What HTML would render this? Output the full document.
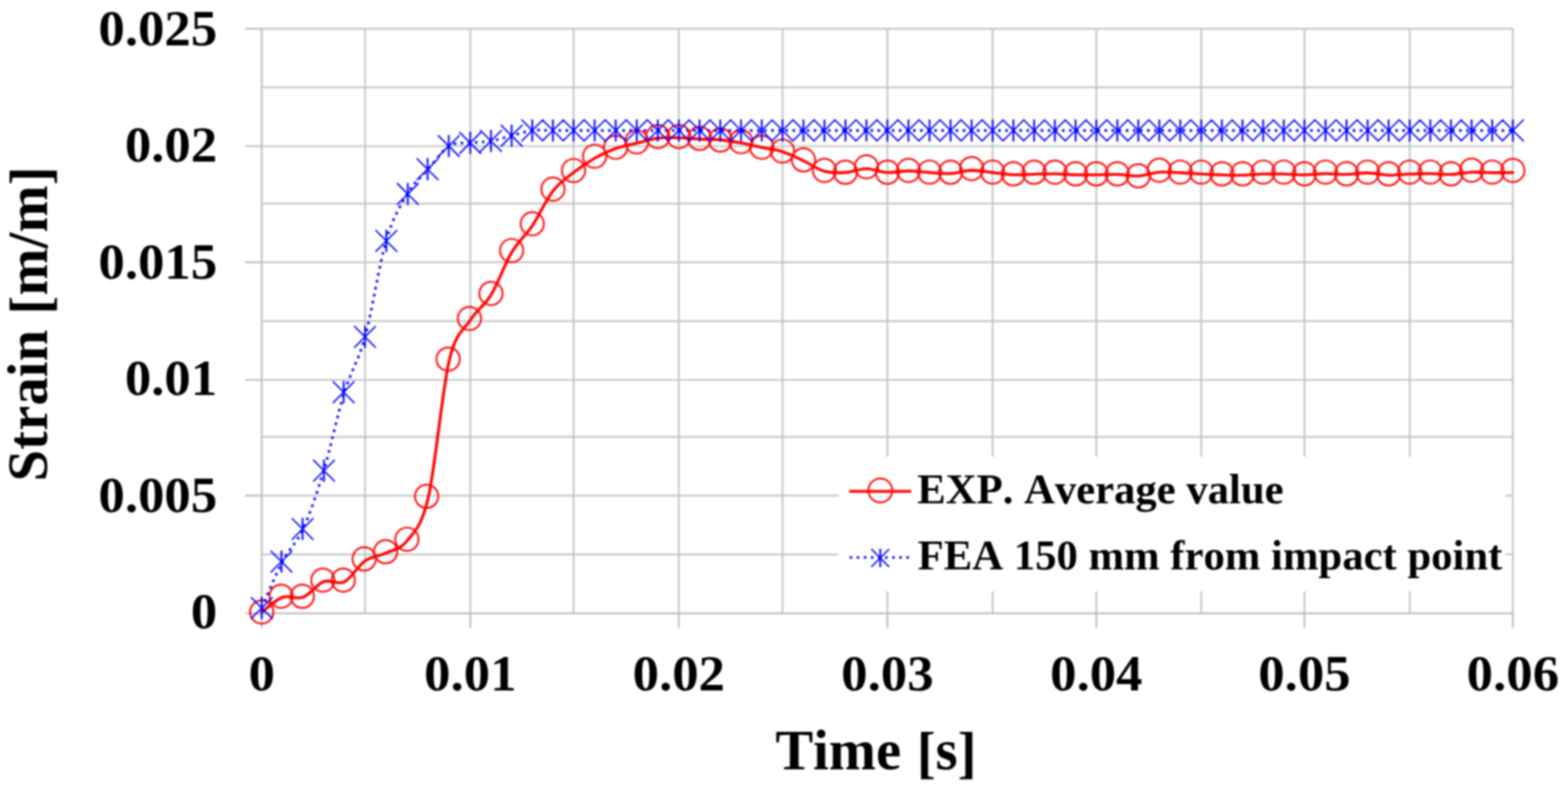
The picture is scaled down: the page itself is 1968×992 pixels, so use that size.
<!DOCTYPE html><html><head><meta charset="utf-8"><title>Strain vs Time</title><style>html,body{margin:0;padding:0;background:#fff;}svg{display:block;filter:blur(1px);}text{font-family:"Liberation Serif",serif;font-weight:bold;fill:#000;font-kerning:none;}</style></head><body>
<svg width="1968" height="992" viewBox="0 0 1968 992">
<rect width="1968" height="992" fill="#fff"/>
<path d="M329.6,36.06H1899.9M329.6,109.60H1899.9M329.6,183.50H1899.9M329.6,255.60H1899.9M329.6,329.40H1899.9M329.6,403.20H1899.9M329.6,477.00H1899.9M329.6,548.60H1899.9M329.6,622.30H1899.9M329.6,696.20H1899.9M458.20,35.0V769.1M590.30,35.0V769.1M719.90,35.0V769.1M852.00,35.0V769.1M982.10,35.0V769.1M1113.80,35.0V769.1M1245.90,35.0V769.1M1376.00,35.0V769.1M1507.70,35.0V769.1M1637.20,35.0V769.1M1769.30,35.0V769.1M1898.80,35.0V769.1" stroke="#c4c4c4" stroke-width="2.2" fill="none"/>
<path d="M307.5,770.20H1899.9M328.50,35.0V788.5M307.5,36.06H328.5M307.5,183.50H328.5M307.5,329.40H328.5M307.5,477.00H328.5M307.5,622.30H328.5M590.30,770.2V788.5M852.00,770.2V788.5M1113.80,770.2V788.5M1376.00,770.2V788.5M1637.20,770.2V788.5M1898.80,770.2V788.5" stroke="#bcbcbc" stroke-width="2.2" fill="none"/>
<text x="272.6" y="56.6" font-size="62.5" text-anchor="end" textLength="149.1" lengthAdjust="spacingAndGlyphs">0.025</text>
<text x="272.6" y="202.7" font-size="62.5" text-anchor="end" textLength="115.9" lengthAdjust="spacingAndGlyphs">0.02</text>
<text x="272.6" y="349.9" font-size="62.5" text-anchor="end" textLength="149.1" lengthAdjust="spacingAndGlyphs">0.015</text>
<text x="272.6" y="495.6" font-size="62.5" text-anchor="end" textLength="115.9" lengthAdjust="spacingAndGlyphs">0.01</text>
<text x="272.6" y="642.8" font-size="62.5" text-anchor="end" textLength="149.1" lengthAdjust="spacingAndGlyphs">0.005</text>
<text x="272.6" y="788.7" font-size="62.5" text-anchor="end" textLength="33.1" lengthAdjust="spacingAndGlyphs">0</text>
<text x="328.5" y="866.5" font-size="62.5" text-anchor="middle" textLength="33.1" lengthAdjust="spacingAndGlyphs">0</text>
<text x="590.3" y="866.5" font-size="62.5" text-anchor="middle" textLength="115.9" lengthAdjust="spacingAndGlyphs">0.01</text>
<text x="852.0" y="866.5" font-size="62.5" text-anchor="middle" textLength="115.9" lengthAdjust="spacingAndGlyphs">0.02</text>
<text x="1113.8" y="866.5" font-size="62.5" text-anchor="middle" textLength="115.9" lengthAdjust="spacingAndGlyphs">0.03</text>
<text x="1376.0" y="866.5" font-size="62.5" text-anchor="middle" textLength="115.9" lengthAdjust="spacingAndGlyphs">0.04</text>
<text x="1637.2" y="866.5" font-size="62.5" text-anchor="middle" textLength="115.9" lengthAdjust="spacingAndGlyphs">0.05</text>
<text x="1898.8" y="866.5" font-size="62.5" text-anchor="middle" textLength="115.9" lengthAdjust="spacingAndGlyphs">0.06</text>
<text x="973.2" y="965.8" font-size="71">Time <tspan dx="2" dy="3.4">[</tspan><tspan dy="-3.4">s</tspan><tspan dy="3.4">]</tspan></text>
<text transform="translate(58.5,604.6) rotate(-90)" x="0" y="0" font-size="71" letter-spacing="0.2">Strain <tspan dx="1" dy="3.4">[</tspan><tspan dy="-3.4">m/m</tspan><tspan dy="3.4">]</tspan></text>
<path d="M328.50,768.70 C332.82,765.58 345.79,753.13 354.44,750.00 C363.09,746.87 371.73,753.18 380.38,749.90 C389.03,746.62 397.67,733.52 406.32,730.30 C414.97,727.08 423.61,734.93 432.26,730.60 C440.91,726.27 449.47,710.35 458.20,704.30 C466.93,698.25 475.81,698.52 484.62,694.30 C493.43,690.08 502.23,690.55 511.04,679.00 C519.85,667.45 528.65,662.75 537.46,625.00 C546.27,587.25 555.07,489.67 563.88,452.50 C572.69,415.33 581.58,415.67 590.30,402.00 C599.02,388.33 607.58,384.67 616.22,370.50 C624.86,356.33 633.50,331.50 642.14,317.00 C650.78,302.50 659.42,296.37 668.06,283.50 C676.70,270.63 685.34,250.95 693.98,239.80 C702.62,228.65 711.18,223.43 719.90,216.60 C728.62,209.77 737.51,203.82 746.32,198.80 C755.13,193.78 763.93,189.68 772.74,186.50 C781.55,183.32 790.35,181.87 799.16,179.70 C807.97,177.53 816.77,174.62 825.58,173.50 C834.39,172.38 843.26,172.82 852.00,173.00 C860.74,173.18 869.35,174.17 878.02,174.60 C886.69,175.03 895.37,174.77 904.04,175.60 C912.71,176.43 921.39,178.00 930.06,179.60 C938.73,181.20 947.41,183.38 956.08,185.20 C964.75,187.02 973.37,187.73 982.10,190.50 C990.83,193.27 999.66,197.70 1008.44,201.80 C1017.22,205.90 1026.00,212.63 1034.78,215.10 C1043.56,217.57 1052.34,217.17 1061.12,216.60 C1069.90,216.03 1078.68,211.70 1087.46,211.70 C1096.24,211.70 1105.01,216.12 1113.80,216.60 C1122.59,217.08 1131.41,214.60 1140.22,214.60 C1149.03,214.60 1157.83,216.05 1166.64,216.60 C1175.45,217.15 1184.25,218.35 1193.06,217.90 C1201.87,217.45 1210.67,214.12 1219.48,213.90 C1228.29,213.68 1237.16,215.67 1245.90,216.60 C1254.64,217.53 1263.25,219.15 1271.92,219.50 C1280.59,219.85 1289.27,218.90 1297.94,218.70 C1306.61,218.50 1315.29,218.17 1323.96,218.30 C1332.63,218.43 1341.31,219.30 1349.98,219.50 C1358.65,219.70 1367.27,219.58 1376.00,219.50 C1384.73,219.42 1393.56,218.75 1402.34,219.00 C1411.12,219.25 1419.90,221.47 1428.68,221.00 C1437.46,220.53 1446.24,216.88 1455.02,216.20 C1463.80,215.52 1472.58,216.52 1481.36,216.90 C1490.14,217.28 1498.99,218.05 1507.70,218.50 C1516.41,218.95 1524.97,219.35 1533.60,219.60 C1542.23,219.85 1550.87,220.18 1559.50,220.00 C1568.13,219.82 1576.77,218.75 1585.40,218.50 C1594.03,218.25 1602.67,218.33 1611.30,218.50 C1619.93,218.67 1628.48,219.58 1637.20,219.50 C1645.92,219.42 1654.81,218.08 1663.62,218.00 C1672.43,217.92 1681.23,219.15 1690.04,219.00 C1698.85,218.85 1707.65,216.93 1716.46,217.10 C1725.27,217.27 1734.07,219.77 1742.88,220.00 C1751.69,220.23 1760.58,218.83 1769.30,218.50 C1778.02,218.17 1786.57,217.92 1795.20,218.00 C1803.83,218.08 1812.47,219.30 1821.10,219.00 C1829.73,218.70 1838.37,216.55 1847.00,216.20 C1855.63,215.85 1864.27,216.83 1872.90,216.90 C1881.53,216.97 1894.48,216.65 1898.80,216.60" stroke="#ff0000" stroke-width="3.6" fill="none" stroke-linejoin="round" stroke-linecap="round"/>
<g fill="none" stroke="#ff0000" stroke-width="2.2"><circle cx="328.50" cy="768.50" r="14.6"/><circle cx="352.84" cy="748.70" r="14.6"/><circle cx="379.38" cy="748.80" r="14.6"/><circle cx="405.22" cy="728.50" r="14.6"/><circle cx="430.86" cy="728.50" r="14.6"/><circle cx="457.10" cy="701.80" r="14.6"/><circle cx="484.02" cy="692.80" r="14.6"/><circle cx="510.74" cy="677.10" r="14.6"/><circle cx="535.46" cy="623.30" r="14.6"/><circle cx="562.48" cy="450.90" r="14.6"/><circle cx="589.20" cy="399.90" r="14.6"/><circle cx="616.22" cy="368.50" r="14.6"/><circle cx="642.14" cy="314.60" r="14.6"/><circle cx="668.06" cy="281.00" r="14.6"/><circle cx="693.98" cy="237.50" r="14.6"/><circle cx="719.90" cy="214.10" r="14.6"/><circle cx="746.32" cy="196.10" r="14.6"/><circle cx="772.74" cy="184.90" r="14.6"/><circle cx="799.16" cy="178.10" r="14.6"/><circle cx="825.58" cy="171.50" r="14.6"/><circle cx="852.00" cy="171.50" r="14.6"/><circle cx="878.02" cy="173.80" r="14.6"/><circle cx="904.04" cy="175.80" r="14.6"/><circle cx="930.06" cy="177.90" r="14.6"/><circle cx="956.08" cy="185.00" r="14.6"/><circle cx="982.10" cy="189.60" r="14.6"/><circle cx="1008.44" cy="200.80" r="14.6"/><circle cx="1034.78" cy="214.00" r="14.6"/><circle cx="1061.12" cy="216.30" r="14.6"/><circle cx="1087.46" cy="209.50" r="14.6"/><circle cx="1113.80" cy="216.30" r="14.6"/><circle cx="1140.22" cy="214.00" r="14.6"/><circle cx="1166.64" cy="216.10" r="14.6"/><circle cx="1193.06" cy="216.30" r="14.6"/><circle cx="1219.48" cy="211.70" r="14.6"/><circle cx="1245.90" cy="216.10" r="14.6"/><circle cx="1271.92" cy="218.30" r="14.6"/><circle cx="1297.94" cy="216.30" r="14.6"/><circle cx="1323.96" cy="216.20" r="14.6"/><circle cx="1349.98" cy="218.30" r="14.6"/><circle cx="1376.00" cy="218.30" r="14.6"/><circle cx="1402.34" cy="218.30" r="14.6"/><circle cx="1428.68" cy="220.80" r="14.6"/><circle cx="1455.02" cy="213.70" r="14.6"/><circle cx="1481.36" cy="216.10" r="14.6"/><circle cx="1507.70" cy="216.10" r="14.6"/><circle cx="1533.60" cy="218.30" r="14.6"/><circle cx="1559.50" cy="218.30" r="14.6"/><circle cx="1585.40" cy="216.10" r="14.6"/><circle cx="1611.30" cy="216.10" r="14.6"/><circle cx="1637.20" cy="218.30" r="14.6"/><circle cx="1663.62" cy="216.10" r="14.6"/><circle cx="1690.04" cy="218.30" r="14.6"/><circle cx="1716.46" cy="216.10" r="14.6"/><circle cx="1742.88" cy="218.30" r="14.6"/><circle cx="1769.30" cy="216.10" r="14.6"/><circle cx="1795.20" cy="216.10" r="14.6"/><circle cx="1821.10" cy="218.30" r="14.6"/><circle cx="1847.00" cy="213.70" r="14.6"/><circle cx="1872.90" cy="216.10" r="14.6"/><circle cx="1898.80" cy="214.00" r="14.6"/></g>
<path d="M328.50,763.50 C332.82,753.78 345.79,721.75 354.44,705.20 C363.09,688.65 371.73,683.23 380.38,664.20 C389.03,645.17 397.67,619.62 406.32,591.00 C414.97,562.38 423.61,520.50 432.26,492.50 C440.91,464.50 449.47,454.67 458.20,423.00 C466.93,391.33 475.81,332.40 484.62,302.50 C493.43,272.60 502.23,258.60 511.04,243.60 C519.85,228.60 528.65,222.53 537.46,212.50 C546.27,202.47 555.07,188.92 563.88,183.40 C572.69,177.88 581.58,180.47 590.30,179.40 C599.02,178.33 607.58,178.50 616.22,177.00 C624.86,175.50 633.50,172.60 642.14,170.40 C650.78,168.20 659.42,164.90 668.06,163.80 C676.70,162.70 685.34,163.80 693.98,163.80 C702.62,163.80 711.18,163.80 719.90,163.80 C728.62,163.80 737.51,163.80 746.32,163.80 C755.13,163.80 763.93,163.80 772.74,163.80 C781.55,163.80 790.35,163.80 799.16,163.80 C807.97,163.80 816.77,163.80 825.58,163.80 C834.39,163.80 843.26,163.80 852.00,163.80 C860.74,163.80 869.35,163.80 878.02,163.80 C886.69,163.80 895.37,163.80 904.04,163.80 C912.71,163.80 921.39,163.80 930.06,163.80 C938.73,163.80 947.41,163.80 956.08,163.80 C964.75,163.80 973.37,163.80 982.10,163.80 C990.83,163.80 999.66,163.80 1008.44,163.80 C1017.22,163.80 1026.00,163.80 1034.78,163.80 C1043.56,163.80 1052.34,163.80 1061.12,163.80 C1069.90,163.80 1078.68,163.80 1087.46,163.80 C1096.24,163.80 1105.01,163.80 1113.80,163.80 C1122.59,163.80 1131.41,163.80 1140.22,163.80 C1149.03,163.80 1157.83,163.80 1166.64,163.80 C1175.45,163.80 1184.25,163.80 1193.06,163.80 C1201.87,163.80 1210.67,163.80 1219.48,163.80 C1228.29,163.80 1237.16,163.80 1245.90,163.80 C1254.64,163.80 1263.25,163.80 1271.92,163.80 C1280.59,163.80 1289.27,163.80 1297.94,163.80 C1306.61,163.80 1315.29,163.80 1323.96,163.80 C1332.63,163.80 1341.31,163.80 1349.98,163.80 C1358.65,163.80 1367.27,163.80 1376.00,163.80 C1384.73,163.80 1393.56,163.80 1402.34,163.80 C1411.12,163.80 1419.90,163.80 1428.68,163.80 C1437.46,163.80 1446.24,163.80 1455.02,163.80 C1463.80,163.80 1472.58,163.80 1481.36,163.80 C1490.14,163.80 1498.99,163.80 1507.70,163.80 C1516.41,163.80 1524.97,163.80 1533.60,163.80 C1542.23,163.80 1550.87,163.80 1559.50,163.80 C1568.13,163.80 1576.77,163.80 1585.40,163.80 C1594.03,163.80 1602.67,163.80 1611.30,163.80 C1619.93,163.80 1628.48,163.80 1637.20,163.80 C1645.92,163.80 1654.81,163.80 1663.62,163.80 C1672.43,163.80 1681.23,163.80 1690.04,163.80 C1698.85,163.80 1707.65,163.80 1716.46,163.80 C1725.27,163.80 1734.07,163.80 1742.88,163.80 C1751.69,163.80 1760.58,163.80 1769.30,163.80 C1778.02,163.80 1786.57,163.80 1795.20,163.80 C1803.83,163.80 1812.47,163.80 1821.10,163.80 C1829.73,163.80 1838.37,163.80 1847.00,163.80 C1855.63,163.80 1864.27,163.80 1872.90,163.80 C1881.53,163.80 1894.48,163.80 1898.80,163.80" stroke="#0000ff" stroke-width="3.2" fill="none" stroke-dasharray="3.2 5.7"/>
<path d="M314.90,749.90L342.10,777.10M314.90,777.10L342.10,749.90M339.64,691.60L366.84,718.80M339.64,718.80L366.84,691.60M366.18,650.60L393.38,677.80M366.18,677.80L393.38,650.60M393.02,577.40L420.22,604.60M393.02,604.60L420.22,577.40M417.66,478.90L444.86,506.10M417.66,506.10L444.86,478.90M444.50,409.40L471.70,436.60M444.50,436.60L471.70,409.40M471.32,288.90L498.52,316.10M471.32,316.10L498.52,288.90M498.24,230.00L525.44,257.20M498.24,257.20L525.44,230.00M523.06,198.90L550.26,226.10M523.06,226.10L550.26,198.90M549.68,169.80L576.88,197.00M549.68,197.00L576.88,169.80M576.60,165.80L603.80,193.00M576.60,193.00L603.80,165.80M602.62,163.40L629.82,190.60M602.62,190.60L629.82,163.40M628.54,156.80L655.74,184.00M628.54,184.00L655.74,156.80M654.46,150.20L681.66,177.40M654.46,177.40L681.66,150.20M680.38,150.20L707.58,177.40M680.38,177.40L707.58,150.20M706.30,150.20L733.50,177.40M706.30,177.40L733.50,150.20M732.72,150.20L759.92,177.40M732.72,177.40L759.92,150.20M759.14,150.20L786.34,177.40M759.14,177.40L786.34,150.20M785.56,150.20L812.76,177.40M785.56,177.40L812.76,150.20M811.98,150.20L839.18,177.40M811.98,177.40L839.18,150.20M838.40,150.20L865.60,177.40M838.40,177.40L865.60,150.20M864.42,150.20L891.62,177.40M864.42,177.40L891.62,150.20M890.44,150.20L917.64,177.40M890.44,177.40L917.64,150.20M916.46,150.20L943.66,177.40M916.46,177.40L943.66,150.20M942.48,150.20L969.68,177.40M942.48,177.40L969.68,150.20M968.50,150.20L995.70,177.40M968.50,177.40L995.70,150.20M994.84,150.20L1022.04,177.40M994.84,177.40L1022.04,150.20M1021.18,150.20L1048.38,177.40M1021.18,177.40L1048.38,150.20M1047.52,150.20L1074.72,177.40M1047.52,177.40L1074.72,150.20M1073.86,150.20L1101.06,177.40M1073.86,177.40L1101.06,150.20M1100.20,150.20L1127.40,177.40M1100.20,177.40L1127.40,150.20M1126.62,150.20L1153.82,177.40M1126.62,177.40L1153.82,150.20M1153.04,150.20L1180.24,177.40M1153.04,177.40L1180.24,150.20M1179.46,150.20L1206.66,177.40M1179.46,177.40L1206.66,150.20M1205.88,150.20L1233.08,177.40M1205.88,177.40L1233.08,150.20M1232.30,150.20L1259.50,177.40M1232.30,177.40L1259.50,150.20M1258.32,150.20L1285.52,177.40M1258.32,177.40L1285.52,150.20M1284.34,150.20L1311.54,177.40M1284.34,177.40L1311.54,150.20M1310.36,150.20L1337.56,177.40M1310.36,177.40L1337.56,150.20M1336.38,150.20L1363.58,177.40M1336.38,177.40L1363.58,150.20M1362.40,150.20L1389.60,177.40M1362.40,177.40L1389.60,150.20M1388.74,150.20L1415.94,177.40M1388.74,177.40L1415.94,150.20M1415.08,150.20L1442.28,177.40M1415.08,177.40L1442.28,150.20M1441.42,150.20L1468.62,177.40M1441.42,177.40L1468.62,150.20M1467.76,150.20L1494.96,177.40M1467.76,177.40L1494.96,150.20M1494.10,150.20L1521.30,177.40M1494.10,177.40L1521.30,150.20M1520.00,150.20L1547.20,177.40M1520.00,177.40L1547.20,150.20M1545.90,150.20L1573.10,177.40M1545.90,177.40L1573.10,150.20M1571.80,150.20L1599.00,177.40M1571.80,177.40L1599.00,150.20M1597.70,150.20L1624.90,177.40M1597.70,177.40L1624.90,150.20M1623.60,150.20L1650.80,177.40M1623.60,177.40L1650.80,150.20M1650.02,150.20L1677.22,177.40M1650.02,177.40L1677.22,150.20M1676.44,150.20L1703.64,177.40M1676.44,177.40L1703.64,150.20M1702.86,150.20L1730.06,177.40M1702.86,177.40L1730.06,150.20M1729.28,150.20L1756.48,177.40M1729.28,177.40L1756.48,150.20M1755.70,150.20L1782.90,177.40M1755.70,177.40L1782.90,150.20M1781.60,150.20L1808.80,177.40M1781.60,177.40L1808.80,150.20M1807.50,150.20L1834.70,177.40M1807.50,177.40L1834.70,150.20M1833.40,150.20L1860.60,177.40M1833.40,177.40L1860.60,150.20M1859.30,150.20L1886.50,177.40M1859.30,177.40L1886.50,150.20M1885.20,150.20L1912.40,177.40M1885.20,177.40L1912.40,150.20" stroke="#0000ff" stroke-width="1.8" fill="none"/>
<path d="M328.50,749.60V777.40M353.24,691.30V719.10M379.78,650.30V678.10M406.62,577.10V604.90M431.26,478.60V506.40M458.10,409.10V436.90M484.92,288.60V316.40M511.84,229.70V257.50M536.66,198.60V226.40M563.28,169.50V197.30M590.20,165.50V193.30M616.22,163.10V190.90M642.14,156.50V184.30M668.06,149.90V177.70M693.98,149.90V177.70M719.90,149.90V177.70M746.32,149.90V177.70M772.74,149.90V177.70M799.16,149.90V177.70M825.58,149.90V177.70M852.00,149.90V177.70M878.02,149.90V177.70M904.04,149.90V177.70M930.06,149.90V177.70M956.08,149.90V177.70M982.10,149.90V177.70M1008.44,149.90V177.70M1034.78,149.90V177.70M1061.12,149.90V177.70M1087.46,149.90V177.70M1113.80,149.90V177.70M1140.22,149.90V177.70M1166.64,149.90V177.70M1193.06,149.90V177.70M1219.48,149.90V177.70M1245.90,149.90V177.70M1271.92,149.90V177.70M1297.94,149.90V177.70M1323.96,149.90V177.70M1349.98,149.90V177.70M1376.00,149.90V177.70M1402.34,149.90V177.70M1428.68,149.90V177.70M1455.02,149.90V177.70M1481.36,149.90V177.70M1507.70,149.90V177.70M1533.60,149.90V177.70M1559.50,149.90V177.70M1585.40,149.90V177.70M1611.30,149.90V177.70M1637.20,149.90V177.70M1663.62,149.90V177.70M1690.04,149.90V177.70M1716.46,149.90V177.70M1742.88,149.90V177.70M1769.30,149.90V177.70M1795.20,149.90V177.70M1821.10,149.90V177.70M1847.00,149.90V177.70M1872.90,149.90V177.70M1898.80,149.90V177.70" stroke="#0000ff" stroke-width="2.2" fill="none"/>
<rect x="1052.4" y="573.5" width="837" height="169" fill="#fff"/>
<path d="M1066,617H1143.6" stroke="#ff0000" stroke-width="3.6"/>
<circle cx="1104.9" cy="615.8" r="15" fill="none" stroke="#ff0000" stroke-width="2.2"/>
<path d="M1068,700H1143" stroke="#0000ff" stroke-width="3.2" stroke-dasharray="3.2 5.7" transform="translate(-1.6,0)"/>
<path d="M1093.6,689.4L1116.0,711.8M1093.6,711.8L1116.0,689.4" stroke="#0000ff" stroke-width="1.8"/>
<path d="M1104.8,689.0V712.2" stroke="#0000ff" stroke-width="2.2"/>
<text x="1151.2" y="631.9" font-size="53.6">EXP. Average value</text>
<text x="1151.8" y="714.9" font-size="53.6">FEA 150 mm from impact point</text>
</svg></body></html>
